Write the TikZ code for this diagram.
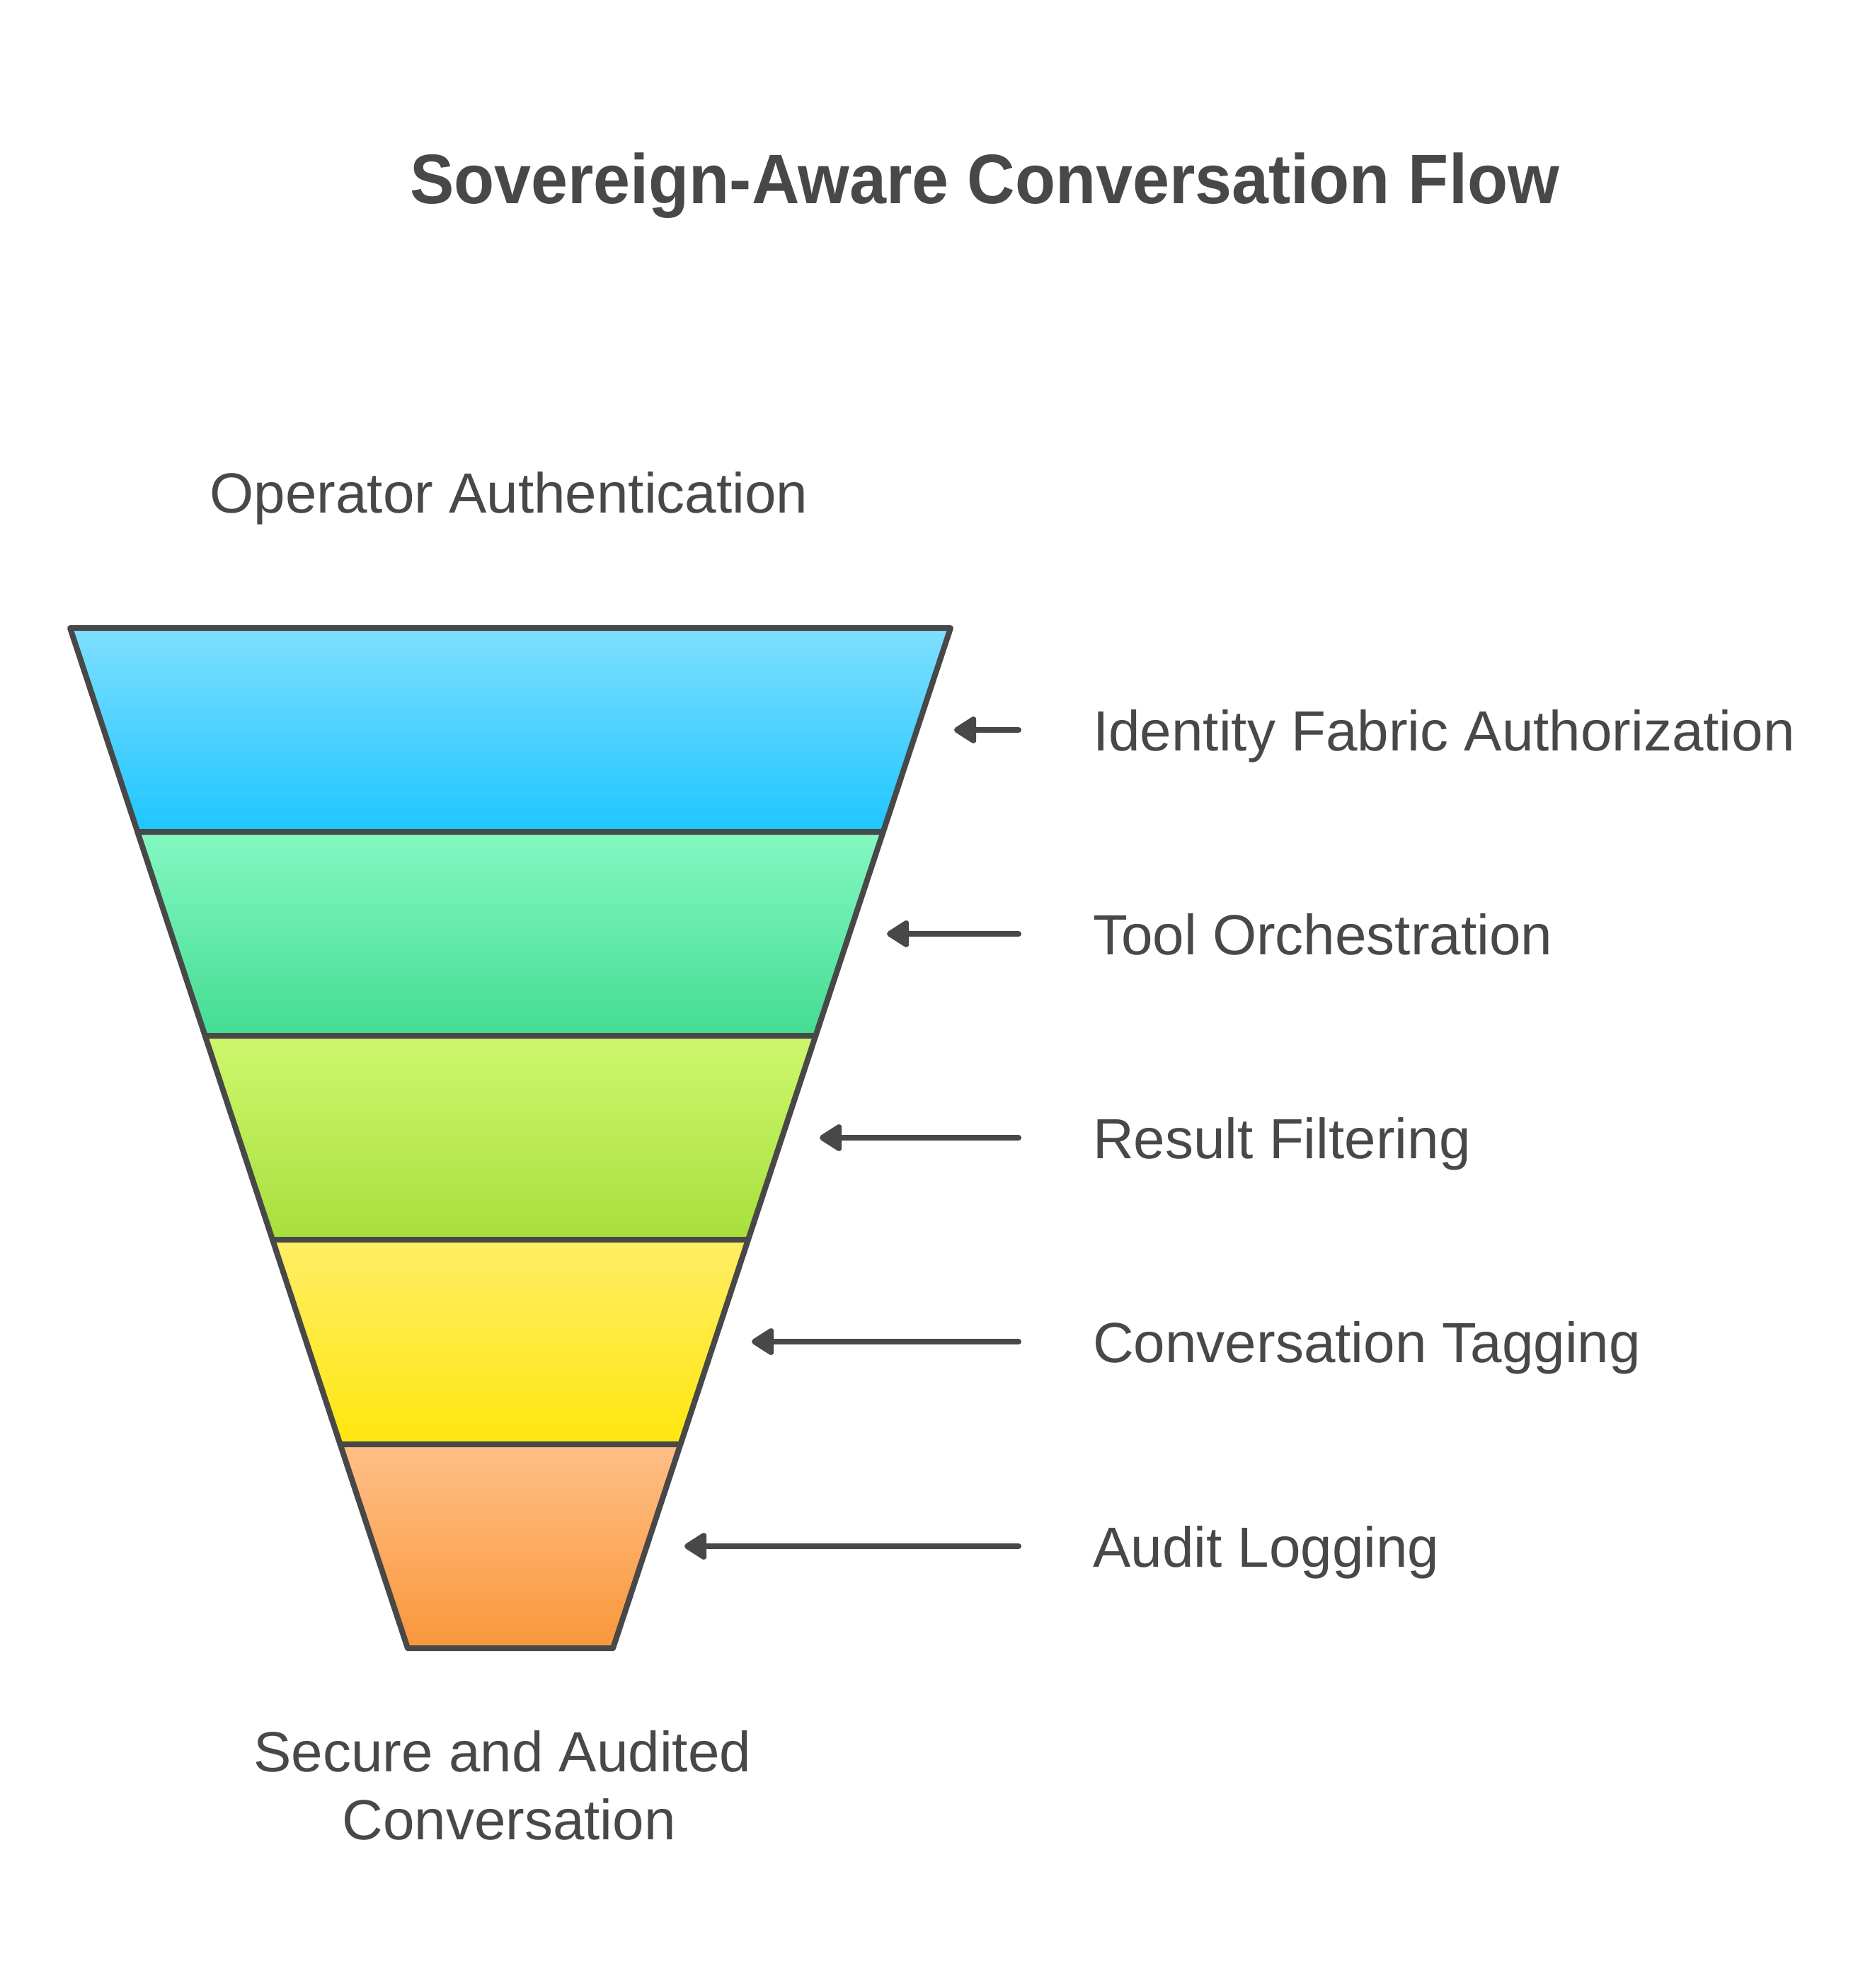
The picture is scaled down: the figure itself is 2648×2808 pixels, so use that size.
\documentclass[tikz,border=0pt]{standalone}
\usepackage{fontspec}
\setmainfont{Liberation Sans}
\newfontfamily\titlefont[FakeStretch=0.944]{Liberation Sans Bold}
\usetikzlibrary{arrows.meta}
\definecolor{ink}{HTML}{484848}
\definecolor{aT}{HTML}{7FDFFF}\definecolor{aB}{HTML}{1EC6FF}
\definecolor{bT}{HTML}{84F8C1}\definecolor{bB}{HTML}{44DC92}
\definecolor{cT}{HTML}{CDF76E}\definecolor{cB}{HTML}{A8DF3C}
\definecolor{dT}{HTML}{FFEE66}\definecolor{dB}{HTML}{FFE60F}
\definecolor{eT}{HTML}{FFBF88}\definecolor{eB}{HTML}{F9973C}
\tikzset{
  layer/.style={draw=ink, line width=8pt, line join=round},
  lbl/.style={font=\fontsize{80}{97}\selectfont, text=ink, inner sep=0pt},
  arr/.style={draw=ink, line width=8pt, line cap=round, -{Triangle[length=35pt,width=42pt,round]}},
}
\begin{document}
\begin{tikzpicture}[x=1pt,y=-1pt]
\useasboundingbox (0,0) rectangle (2648,2808);
\fill[white] (0,0) rectangle (2648,2808);

% funnel layers
\path[layer, top color=aT, bottom color=aB] (99,887) -- (1343,887) -- (1247.7,1175) -- (194.3,1175) -- cycle;
\path[layer, top color=bT, bottom color=bB] (194.3,1175) -- (1247.7,1175) -- (1152.3,1463) -- (289.7,1463) -- cycle;
\path[layer, top color=cT, bottom color=cB] (289.7,1463) -- (1152.3,1463) -- (1057,1751) -- (385,1751) -- cycle;
\path[layer, top color=dT, bottom color=dB] (385,1751) -- (1057,1751) -- (961.4,2040) -- (480.6,2040) -- cycle;
\path[layer, top color=eT, bottom color=eB] (480.6,2040) -- (961.4,2040) -- (866,2328) -- (576,2328) -- cycle;

% title and end labels
\node[font=\titlefont\fontsize{99}{110}\selectfont, text=ink, inner sep=0pt, anchor=base] (title) at (1391,287) {Sovereign-Aware Conversation Flow};
\node[lbl, anchor=base] (top) at (719,724) {Operator Authentication};
\node[lbl, anchor=base] (bot1) at (710,2502) {Secure and Audited};
\node[lbl, anchor=base] (bot2) at (719,2598) {Conversation};

% stage labels
\node[lbl, anchor=base west] (l1) at (1544,1060) {Identity Fabric Authorization};
\node[lbl, anchor=base west] (l2) at (1544,1348) {Tool Orchestration};
\node[lbl, anchor=base west] (l3) at (1544,1636) {Result Filtering};
\node[lbl, anchor=base west] (l4) at (1544,1924) {Conversation Tagging};
\node[lbl, anchor=base west] (l5) at (1544,2213) {Audit Logging};

% arrows
\coordinate (s1) at (1439,1031); \coordinate (t1) at (1348,1031);
\coordinate (s2) at (1439,1319); \coordinate (t2) at (1253,1319);
\coordinate (s3) at (1439,1607); \coordinate (t3) at (1158,1607);
\coordinate (s4) at (1439,1895); \coordinate (t4) at (1062,1895);
\coordinate (s5) at (1439,2184); \coordinate (t5) at (967,2184);
\foreach \i in {1,...,5} {\draw[arr] (s\i) -- (t\i);}
\end{tikzpicture}
\end{document}
